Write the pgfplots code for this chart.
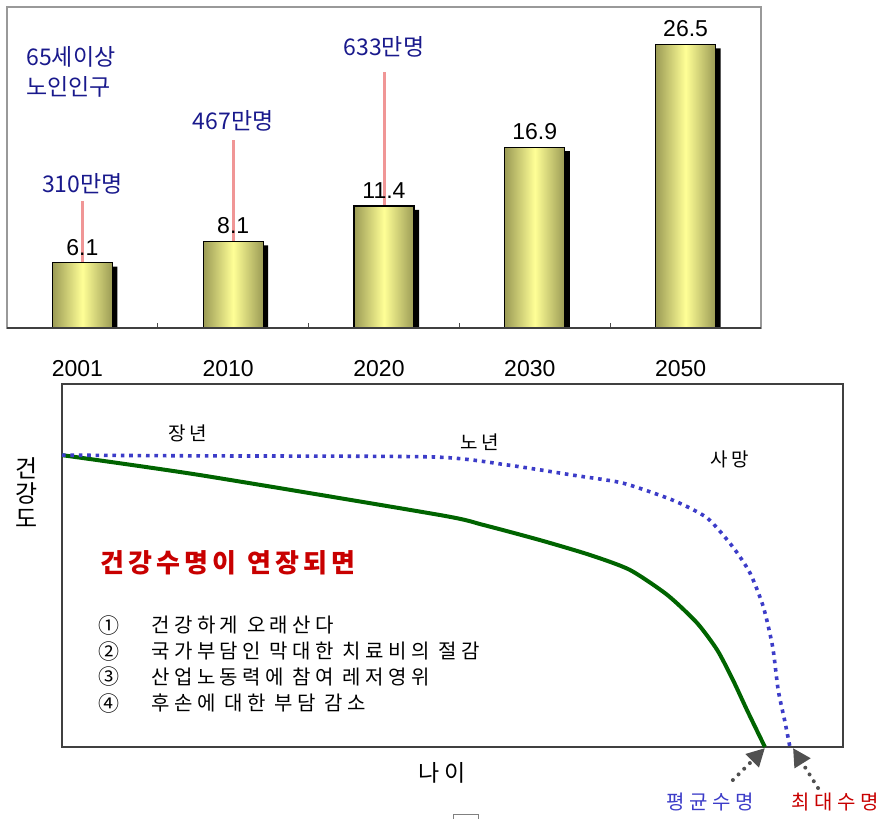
\documentclass[border=0pt]{standalone}
\usepackage{pgfplots}
\pgfplotsset{compat=1.18}
\usepackage{fontspec}
\setmainfont{Liberation Sans}
\newfontfamily\kr{Noto Sans CJK KR}
\newfontfamily\krs{Noto Sans CJK KR}[LetterSpace=22]
\newfontfamily\krt{Noto Sans CJK KR}[LetterSpace=16]
\usetikzlibrary{arrows.meta}
\definecolor{navy}{RGB}{25,25,140}
\definecolor{barEdge}{RGB}{155,155,85}
\definecolor{barMid}{RGB}{255,255,150}
\definecolor{pinkline}{RGB}{240,150,150}
\definecolor{dkgreen}{RGB}{0,100,0}
\definecolor{dotblue}{RGB}{60,60,200}
\definecolor{krred}{RGB}{200,0,0}
\definecolor{arrowgray}{RGB}{80,80,80}
\pgfplotsset{
  mybar/.style={ybar, bar width=30pt, bar shift=0pt, draw=black, line width=0.6pt,
    left color=barEdge, right color=barEdge, middle color=barMid,
    point meta=explicit symbolic, nodes near coords,
    nodes near coords style={font=\fontsize{11.5}{14}\selectfont, text=black}},
}
\tikzset{kl/.style={navy, font=\kr\fontsize{11.5}{13}\selectfont}}
\begin{document}
\begin{tikzpicture}
\path[use as bounding box] (0,0) rectangle (439pt,409.5pt);
% ---------------- top bar chart ----------------
\begin{axis}[
  at={(3.5pt,245.5pt)}, anchor=south west,
  scale only axis, width=377pt, height=160.5pt,
  xmin=-0.5, xmax=4.5, ymin=0, ymax=30,
  clip=false,
  axis line style={draw=black!40, line width=0.6pt},
  ytick=\empty,
  xtick={0,1,2,3,4},
  xticklabels={2001,2010,2020,2030,2050},
  major tick length=0pt,
  minor xtick={0.5,1.5,2.5,3.5},
  minor tick length=2.5pt,
  tick align=inside,
  xtick pos=bottom,
  minor tick style={black!70, line width=0.5pt},
  xticklabel style={font=\fontsize{11.5}{13}\selectfont, yshift=-12.5pt, xshift=-2.5pt},
]
% pink leader lines
\addplot[pinkline, line width=1.5pt] coordinates {(0,6.1) (0,11.9)};
\addplot[pinkline, line width=1.5pt] coordinates {(1,8.1) (1,17.6)};
\addplot[pinkline, line width=1.5pt] coordinates {(2,11.4) (2,23.9)};
% shadows
\addplot[ybar, bar width=30pt, bar shift=2.5pt, fill=black, draw=none]
  coordinates {(0,5.73) (1,7.73) (2,11.03) (3,16.53) (4,26.13)};
% bars, one plot each so that each bar gets its own shading
\addplot[mybar] coordinates {(0,6.1)[6.1]};
\addplot[mybar] coordinates {(1,8.1)[8.1]};
\addplot[mybar] coordinates {(2,11.4)[11.4]};
\addplot[mybar] coordinates {(3,16.9)[16.9]};
\addplot[mybar] coordinates {(4,26.5)[26.5]};
\draw[black!75, line width=1pt] (axis cs:-0.5,0) -- (axis cs:4.5,0);
\node[kl] at (axis cs:0,13.5) {310만명};
\node[kl] at (axis cs:1,19.4) {467만명};
\node[kl] at (axis cs:2,26.3) {633만명};
\node[navy, anchor=west, align=left, inner sep=0pt, font=\kr\fontsize{11.5}{15}\selectfont] at (axis cs:-0.374,23.9) {65세이상\\노인인구};
\end{axis}
% ---------------- bottom schematic ----------------
\begin{axis}[
  at={(31pt,36pt)}, anchor=south west,
  scale only axis, width=390.5pt, height=181.5pt,
  xmin=0, xmax=100, ymin=0, ymax=100,
  xtick=\empty, ytick=\empty,
  clip=false,
  axis line style={draw=black!75, line width=0.6pt},
  xlabel={나이},
  xlabel style={at={(axis description cs:0.487,-0.072)}, anchor=center, font=\krs\fontsize{11.5}{13}\selectfont},
  ylabel={건\\강\\도},
  ylabel style={at={(axis description cs:-0.045,0.701)}, anchor=center, rotate=-90, align=center, font=\kr\fontsize{12}{12.5}\selectfont},
]
\addplot[dkgreen, line width=2pt, smooth, tension=0.4] coordinates {
 (0,80.4) (17.7,74.9) (48.4,63.9) (53.9,61.2) (61.2,57.0) (67.6,52.9)
 (72.7,48.8) (77.5,41.9) (81.3,34.2) (83.9,26.7) (85.9,18.5) (87.7,10.2) (90.0,0)};
\addplot[dotblue, line width=1.8pt, dash pattern=on 1.8pt off 2.4pt, smooth, tension=0.4] coordinates {
 (0,80.4) (17.7,80.2) (47.5,79.9) (57.0,77.7) (65.4,74.9) (71.8,72.7)
 (78.2,68.0) (82.6,63.1) (85.9,55.1) (88.1,47.9) (89.8,38.6) (91.0,27.5)
 (91.7,15.7) (92.6,6.6) (93.2,0)};
\node[font=\krs\fontsize{9.5}{11}\selectfont] at (axis cs:16.1,86.5) {장년};
\node[font=\krs\fontsize{9.5}{11}\selectfont] at (axis cs:53.5,84.0) {노년};
\node[font=\krs\fontsize{9.5}{11}\selectfont] at (axis cs:85.5,79.1) {사망};
\node[krred, anchor=west, inner sep=0pt, font=\krt\bfseries\fontsize{13}{15}\selectfont] at (axis cs:4.9,50.7) {건강수명이 연장되면};
\node[font=\kr\fontsize{10.5}{12}\selectfont] at (axis cs:6.0,33.6) {①};
\node[font=\kr\fontsize{10.5}{12}\selectfont] at (axis cs:6.0,26.4) {②};
\node[font=\kr\fontsize{10.5}{12}\selectfont] at (axis cs:6.0,19.3) {③};
\node[font=\kr\fontsize{10.5}{12}\selectfont] at (axis cs:6.0,12.1) {④};
\node[anchor=west, inner sep=0pt, font=\krs\fontsize{10}{11}\selectfont] at (axis cs:11.4,33.6) {건강하게 오래산다};
\node[anchor=west, inner sep=0pt, font=\krs\fontsize{10}{11}\selectfont] at (axis cs:11.4,26.4) {국가부담인 막대한 치료비의 절감};
\node[anchor=west, inner sep=0pt, font=\krs\fontsize{10}{11}\selectfont] at (axis cs:11.4,19.3) {산업노동력에 참여 레저영위};
\node[anchor=west, inner sep=0pt, font=\krs\fontsize{10}{11}\selectfont] at (axis cs:11.4,12.1) {후손에 대한 부담 감소};
\draw[arrowgray, line width=2pt, line cap=round, dash pattern=on 0pt off 4pt,
  -{Triangle[length=9pt,width=9pt]}] (axis cs:85.9,-9.1) -- (axis cs:90.0,-0.3);
\draw[arrowgray, line width=2pt, line cap=round, dash pattern=on 0pt off 4pt,
  -{Triangle[length=9pt,width=9pt]}] (axis cs:96.8,-11.3) -- (axis cs:93.6,-0.3);
\node[dotblue, font=\krs\fontsize{10}{11}\selectfont] at (axis cs:83.0,-15.2) {평균수명};
\node[krred, font=\krs\fontsize{10}{11}\selectfont] at (axis cs:99.0,-15.2) {최대수명};
\end{axis}
\draw[black!50, line width=0.5pt] (226.5pt,-3pt) rectangle (239pt,2pt);
\end{tikzpicture}
\end{document}
